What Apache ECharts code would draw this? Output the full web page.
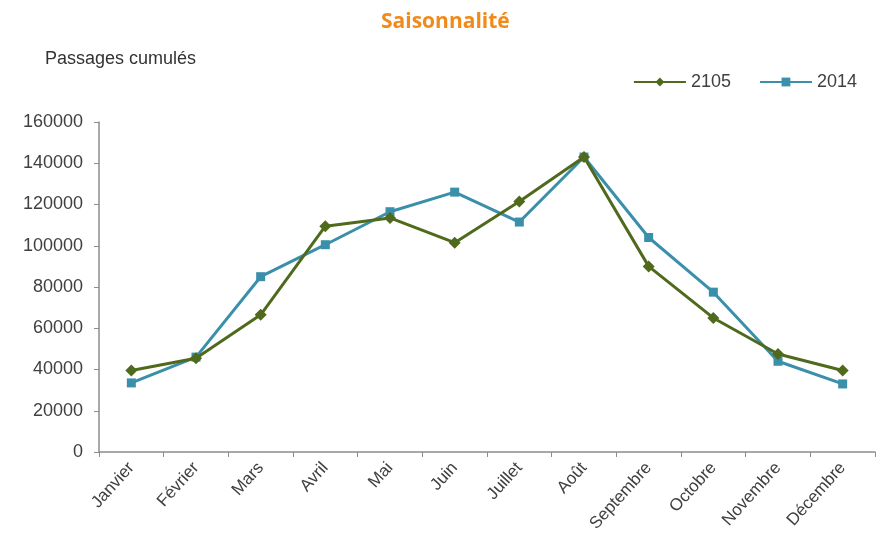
<!DOCTYPE html>
<html><head><meta charset="utf-8">
<script src="https://cdn.jsdelivr.net/npm/echarts@6/dist/echarts.min.js"></script>
<style>html,body{margin:0;padding:0;background:#fff}#c{width:880px;height:537px}</style>
</head><body><div id="c"></div>
<script>
const months = ['Janvier','Février','Mars','Avril','Mai','Juin','Juillet','Août','Septembre','Octobre','Novembre','Décembre'];
const s2105 = [39500, 45500, 66500, 109500, 113500, 101500, 121500, 143000, 90000, 65000, 47500, 39500];
const s2014 = [33500, 46000, 85000, 100500, 116500, 126000, 111500, 143000, 104000, 77500, 44000, 33000];
const yTicks = [0, 20000, 40000, 60000, 80000, 100000, 120000, 140000, 160000];

const chart = echarts.init(document.getElementById('c'), null, {renderer:'canvas'});
chart.setOption({
  animation: false,
  backgroundColor: '#fff',
  title: {
    text: 'Saisonnalité', left: 376, top: 7,
    textStyle: {color: '#F28A1A', fontSize: 21, fontWeight: 'bold', fontFamily: 'Open Sans, sans-serif'}
  },
  graphic: [{
    type: 'text', left: 45, top: 50,
    style: {text: 'Passages cumulés', fontSize: 18, fill: '#333', fontFamily: 'Liberation Sans, Arial, sans-serif'}
  }],
  legend: {
    right: 18, top: 68, itemWidth: 52, itemHeight: 11, itemGap: 28,
    textStyle: {fontSize: 18, color: '#404040', fontFamily: 'Liberation Sans, sans-serif'},
    data: ['2105', '2014']
  },
  grid: {left: 99, right: 5, top: 122, bottom: 85, containLabel: false},
  xAxis: {
    type: 'category', data: months, boundaryGap: true,
    axisLine: {lineStyle: {color: '#8c8c8c', width: 1.5}},
    axisTick: {show: true, length: 5, lineStyle: {color: '#8c8c8c'}},
    axisLabel: {rotate: 48, fontSize: 17, color: '#404040', margin: 13, interval: 0, fontFamily: 'Liberation Sans, Arial, sans-serif'}
  },
  yAxis: {
    type: 'value', min: yTicks[0], max: yTicks[yTicks.length-1], interval: 20000,
    splitLine: {show: false},
    axisLine: {show: true, lineStyle: {color: '#8c8c8c', width: 1.5}},
    axisTick: {show: true, length: 5, lineStyle: {color: '#8c8c8c'}},
    axisLabel: {fontSize: 18, color: '#404040', margin: 16, formatter: v => String(v), fontFamily: 'Liberation Sans, Arial, sans-serif'}
  },
  series: [
    {name: '2105', type: 'line', data: s2105, symbol: 'diamond', symbolSize: 12,
     lineStyle: {color: '#4F6A1C', width: 3}, itemStyle: {color: '#4F6A1C'}, z: 3},
    {name: '2014', type: 'line', data: s2014, symbol: 'rect', symbolSize: 9,
     lineStyle: {color: '#3A8FAB', width: 3}, itemStyle: {color: '#3A8FAB'}, z: 2}
  ]
});
</script></body></html>
